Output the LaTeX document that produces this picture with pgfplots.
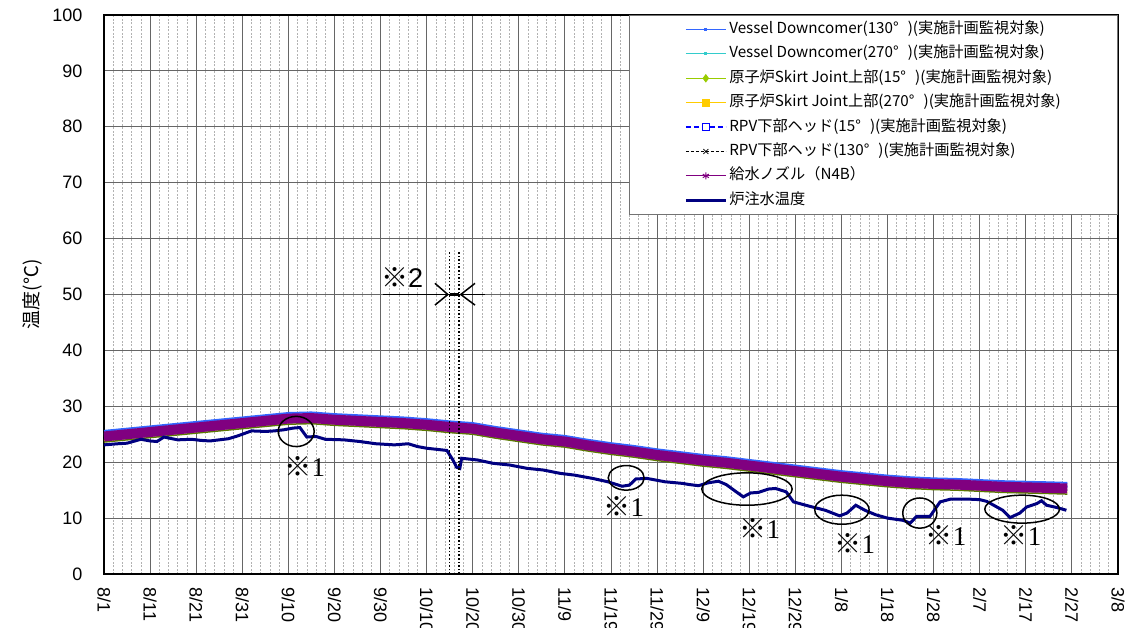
\documentclass[border=0pt]{standalone}
\usepackage{fontspec}
\usepackage{pgfplots}
\pgfplotsset{compat=1.18}
\usepackage{pgfplotstable}
\setmainfont{Liberation Sans}
\newfontfamily\cjk{Noto Sans CJK JP}
\newfontfamily\serifnum{Liberation Serif}
\definecolor{vdA}{RGB}{51,102,255}
\definecolor{vdB}{RGB}{51,204,204}
\definecolor{sjA}{RGB}{153,204,0}
\definecolor{sjB}{RGB}{255,204,0}
\definecolor{rpvA}{RGB}{0,0,255}
\definecolor{nzl}{RGB}{128,0,128}
\definecolor{inj}{RGB}{0,0,128}

\pgfplotstableread{
day n4b vd130 vd270 sj15 sj270 rpv15 rpv130
0 24.6 25.6 25.1 23.6 23.9 24.9 24.3
5 25.0 26.0 25.5 24.0 24.3 25.3 24.7
10 25.4 26.4 25.9 24.4 24.7 25.7 25.1
15 25.8 26.8 26.3 24.8 25.1 26.1 25.5
20 26.2 27.2 26.7 25.2 25.5 26.5 25.9
25 26.6 27.6 27.1 25.6 25.9 26.9 26.3
30 27.0 28.0 27.5 26.0 26.3 27.3 26.7
35 27.4 28.4 27.9 26.4 26.7 27.7 27.1
40 27.8 28.8 28.3 26.8 27.1 28.1 27.5
45 27.9 28.9 28.4 26.9 27.2 28.2 27.6
50 27.6 28.6 28.1 26.6 26.9 27.9 27.3
55 27.4 28.4 27.9 26.4 26.7 27.7 27.1
60 27.2 28.2 27.7 26.2 26.5 27.5 26.9
65 27.0 28.0 27.5 26.0 26.3 27.3 26.7
70 26.7 27.7 27.2 25.7 26.0 27.0 26.4
75 26.3 27.3 26.8 25.3 25.6 26.6 26.0
80 26.0 27.0 26.5 25.0 25.3 26.3 25.7
85 25.3 26.3 25.8 24.3 24.6 25.6 25.0
90 24.7 25.7 25.2 23.7 24.0 25.0 24.4
95 24.1 25.1 24.6 23.1 23.4 24.4 23.8
100 23.7 24.7 24.2 22.7 23.0 24.0 23.4
105 23.0 24.0 23.5 22.0 22.3 23.3 22.7
110 22.4 23.4 22.9 21.4 21.7 22.7 22.1
115 21.9 22.9 22.4 20.9 21.2 22.2 21.6
120 21.3 22.3 21.8 20.3 20.6 21.6 21.0
125 20.8 21.8 21.3 19.8 20.1 21.1 20.5
130 20.3 21.3 20.8 19.3 19.6 20.6 20.0
135 19.9 20.9 20.4 18.9 19.2 20.2 19.6
140 19.4 20.4 19.9 18.4 18.7 19.7 19.1
145 18.9 19.9 19.4 17.9 18.2 19.2 18.6
150 18.4 19.4 18.9 17.4 17.7 18.7 18.1
155 17.9 18.9 18.4 16.9 17.2 18.2 17.6
160 17.4 18.4 17.9 16.4 16.7 17.7 17.1
165 17.0 18.0 17.5 16.0 16.3 17.3 16.7
170 16.6 17.6 17.1 15.6 15.9 16.9 16.3
175 16.3 17.3 16.8 15.3 15.6 16.6 16.0
180 16.1 17.1 16.6 15.1 15.4 16.4 15.8
185 16.0 17.0 16.5 15.0 15.3 16.3 15.7
190 15.8 16.8 16.3 14.8 15.1 16.1 15.5
195 15.6 16.6 16.1 14.6 14.9 15.9 15.3
200 15.5 16.5 16.0 14.5 14.8 15.8 15.2
205 15.4 16.4 15.9 14.4 14.7 15.7 15.1
209 15.3 16.3 15.8 14.3 14.6 15.6 15.0
}\band

\pgfplotstableread{
day t
0 23.1
3 23.3
5 23.4
8 24.1
10 23.8
11.5 23.7
13 24.5
16 24.0
19 24.1
21 23.9
23 23.8
25 24.0
27 24.2
29 24.7
32 25.6
35 25.5
37 25.6
39 25.8
41 26.1
42.5 26.2
44 24.5
46 24.6
48 24.1
52 24.0
55.5 23.7
59 23.3
63 23.1
66 23.3
68 22.8
70 22.5
74.4 22.1
75.7 20.4
76.5 19.1
77.2 18.9
77.6 20.7
81 20.4
84.4 19.8
88 19.5
91.8 18.9
95.3 18.6
99 18.0
102 17.7
106 17.1
109.3 16.5
112.4 15.7
114 15.9
115.4 17.0
117.8 17.1
121.7 16.5
125.6 16.2
127 16.0
129 15.8
131 16.3
133.3 16.6
135 16.0
137 14.8
138.7 13.8
140.3 14.5
142 14.6
144.2 15.2
145.7 15.3
148 14.7
149.6 12.9
152.7 12.2
156.5 11.4
159.6 10.4
161.2 10.9
163.1 12.3
165.1 11.4
167.4 10.6
170 10.0
173.4 9.6
174.9 9.1
176.3 10.3
179.2 10.3
181.4 12.9
183.7 13.4
187.5 13.4
190 13.3
191.5 13.0
195 11.4
196.6 10.1
198.7 10.9
200.2 12.0
202.4 12.6
203.4 13.1
204.5 12.3
206.7 11.9
208.8 11.4
}\inj

\begin{document}
\begin{tikzpicture}
\begin{axis}[
  at={(0,0)}, anchor=south west,
  scale only axis, width=1014pt, height=559pt,
  xmin=0, xmax=220, ymin=0, ymax=100,
  xtick={0,10,...,220},
  xticklabels={8/1,8/11,8/21,8/31,9/10,9/20,9/30,10/10,10/20,10/30,11/9,11/19,11/29,12/9,12/19,12/29,1/8,1/18,1/28,2/7,2/17,2/27,3/8},
  minor x tick num=4,
  ytick={0,10,...,100},
  xmajorgrids=true, xminorgrids=true, ymajorgrids=true,
  major grid style={black!60, line width=1pt},
  minor grid style={black!30, dash pattern=on 2pt off 1.5pt, line width=0.6pt},
  major tick length=0pt, minor tick length=0pt,
  axis line style={line width=1.2pt},
  /pgf/number format/assume math mode=true,
  ticklabel style={font=\fontsize{18}{20}\selectfont},
  xticklabel style={rotate=-90, anchor=west, xshift=10pt},
  yticklabel style={xshift=-18pt},
  ylabel={\cjk 温度(℃)},
  ylabel style={at={(axis description cs:-0.071,0.5)}, anchor=center, font=\fontsize{19}{19}\selectfont},
  legend style={at={(rel axis cs:1,1)}, anchor=north east,
    draw=black!55, line width=0.6pt, fill=white,
    font=\cjk\fontsize{15.2}{17}\selectfont,
    inner xsep=55pt, inner ysep=2pt,
    nodes={text height=11pt, text depth=3pt, inner ysep=5.2pt, inner xsep=2pt}},
  legend cell align=left,
  legend image code/.code={\draw[mark repeat=2,mark phase=2,#1] plot coordinates {(0pt,0pt) (20pt,0pt) (40pt,0pt)};},
]
% data series
\addplot[forget plot, color=sjB, line width=1.5pt] table[x=day,y=sj270] {\band};
\addplot[forget plot, color=sjA!60!black, line width=1.5pt] table[x=day,y=sj15] {\band};
\addplot[forget plot, color=vdB, line width=1.5pt] table[x=day,y=vd270] {\band};
\addplot[forget plot, color=rpvA, dashed, line width=1.5pt] table[x=day,y=rpv15] {\band};
\addplot[forget plot, color=black, dashed, line width=0.8pt] table[x=day,y=rpv130] {\band};
\addplot[forget plot, color=vdA, line width=2pt] table[x=day,y=vd130] {\band};
\addplot[forget plot, color=nzl, line width=10pt] table[x=day,y=n4b] {\band};
\addplot[forget plot, color=inj, line width=3pt] table[x=day,y=t] {\inj};

% legend entries
\addlegendimage{color=vdA, line width=1pt, mark=square*, mark size=1pt}
\addlegendentry{Vessel Downcomer(130°\hspace{0.6em})(実施計画監視対象)}
\addlegendimage{color=vdB, line width=1pt, mark=square*, mark size=1pt}
\addlegendentry{Vessel Downcomer(270°\hspace{0.6em})(実施計画監視対象)}
\addlegendimage{color=sjA, line width=1pt, mark=diamond*, mark size=3.5pt}
\addlegendentry{原子炉Skirt Joint上部(15°\hspace{0.6em})(実施計画監視対象)}
\addlegendimage{color=sjB, line width=1pt, mark=square*, mark size=3.5pt}
\addlegendentry{原子炉Skirt Joint上部(270°\hspace{0.6em})(実施計画監視対象)}
\addlegendimage{color=rpvA, line width=2.2pt, dash pattern=on 5pt off 3pt, mark=square*, mark size=3.5pt, mark options={solid, fill=white, line width=1pt}}
\addlegendentry{RPV下部ヘッド(15°\hspace{0.6em})(実施計画監視対象)}
\addlegendimage{color=black, line width=0.7pt, dash pattern=on 3pt off 2pt, mark=x, mark size=3.5pt, mark options={solid}}
\addlegendentry{RPV下部ヘッド(130°\hspace{0.6em})(実施計画監視対象)}
\addlegendimage{color=nzl, line width=1pt, mark=asterisk, mark size=3.5pt}
\addlegendentry{給水ノズル（N4B）}
\addlegendimage{color=inj, line width=3pt}
\addlegendentry{炉注水温度}

% annotations *1
\draw[line width=1.5pt] (axis cs:41.7,25.5) ellipse [x radius=3.9, y radius=2.7];
\draw[line width=1.5pt] (axis cs:113.3,17.2) ellipse [x radius=3.9, y radius=2.2];
\draw[line width=1.5pt] (axis cs:139.5,15.2) ellipse [x radius=9.8, y radius=2.9];
\draw[line width=1.5pt] (axis cs:160.1,11.5) ellipse [x radius=5.9, y radius=2.6];
\draw[line width=1.5pt] (axis cs:177.0,10.9) ellipse [x radius=3.7, y radius=2.7];
\draw[line width=1.5pt] (axis cs:199.2,11.6) ellipse [x radius=8.1, y radius=2.5];
\tikzset{kome/.style={font=\fontsize{27}{27}\selectfont, inner sep=0pt}}
\node[kome] at (axis cs:43.6,19.3) {{\cjk ※}{\serifnum 1}};
\node[kome] at (axis cs:112.8,12.0) {{\cjk ※}{\serifnum 1}};
\node[kome] at (axis cs:142.3,8.2) {{\cjk ※}{\serifnum 1}};
\node[kome] at (axis cs:162.9,5.5) {{\cjk ※}{\serifnum 1}};
\node[kome] at (axis cs:182.7,6.8) {{\cjk ※}{\serifnum 1}};
\node[kome] at (axis cs:199.0,6.8) {{\cjk ※}{\serifnum 1}};
% annotation *2
\draw[dotted, line width=1.6pt] (axis cs:75,0) -- (axis cs:75,57.7);
\draw[dotted, line width=1.6pt] (axis cs:77,0) -- (axis cs:77,57.7);
\draw[line width=1.2pt] (axis cs:60.5,50) -- (axis cs:82.7,50);
\draw[line width=3pt] (axis cs:75,50) -- (axis cs:77,50);
\draw[line width=1.5pt] (axis cs:71.8,52.0) -- (axis cs:74.6,50) -- (axis cs:71.8,48.1);
\draw[line width=1.5pt] (axis cs:80.5,52.0) -- (axis cs:77.4,50) -- (axis cs:80.5,48.1);
\node[kome] at (axis cs:64.7,53) {{\cjk ※}2};
\end{axis}
\pgfresetboundingbox
\useasboundingbox (-104pt,-53pt) rectangle (1036pt,574pt);
\end{tikzpicture}
\end{document}
